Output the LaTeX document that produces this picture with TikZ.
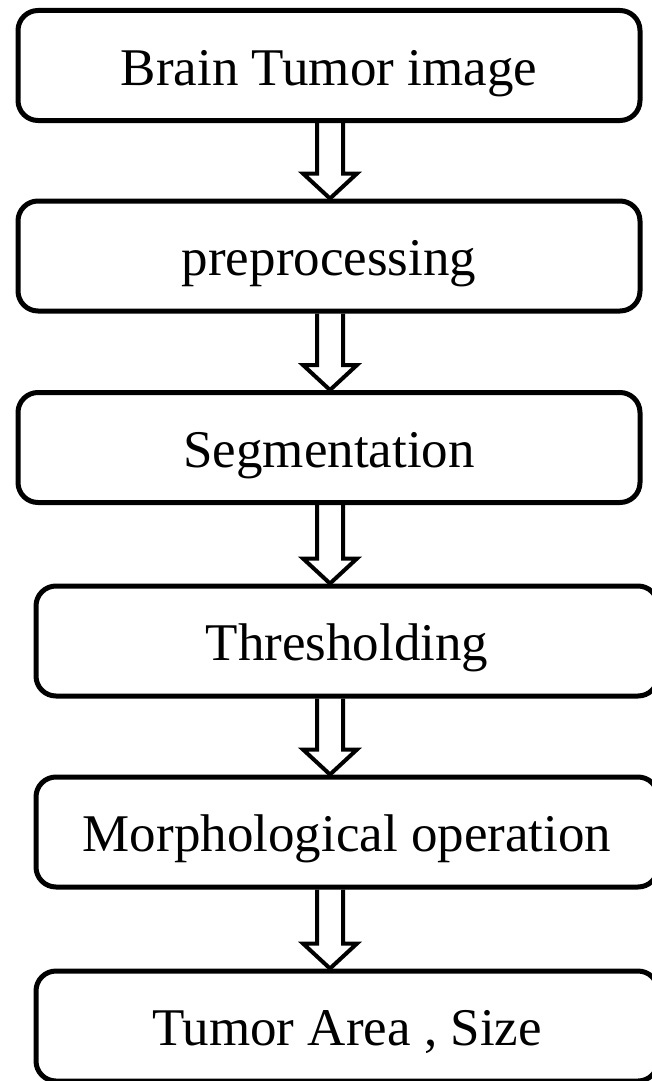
\documentclass[tikz,border=0pt]{standalone}
\usepackage{fontspec}
\setmainfont{Liberation Serif}
\usetikzlibrary{calc}

\tikzset{
  stage/.style={draw, line width=5pt, rounded corners=20pt,
    minimum width=622pt, minimum height=110pt, inner sep=0pt,
    text height=39pt, text depth=0pt,
    font=\fontsize{53}{60}\selectfont},
  hollow/.style={draw, line width=4pt, line join=miter}
}

\begin{document}
\begin{tikzpicture}[x=1pt, y=-1pt]
    \useasboundingbox (0,0) rectangle (651,1081);
    \coordinate (axis) at (330,0);

    \node[stage] (b1) at (329,65.5)  {Brain Tumor image};
    \node[stage] (b2) at (329,256)   {preprocessing};
    \node[stage] (b3) at (329,447.5) {Segmentation};
    \node[stage] (b4) at (347,641)   {Thresholding};
    \node[stage] (b5) at (347,832)   {Morphological operation};
    \node[stage] (b6) at (347,1026)  {Tumor Area , Size};

    % hollow block arrows between the stages
    \foreach \a/\b in {b1/b2, b2/b3, b3/b4, b4/b5, b5/b6} {
      \path (\a.south -| axis) coordinate (top)
            (\b.north -| axis) coordinate (tip);
      \draw[hollow] ($(top)+(-13,0)$) -- ($(tip)+(-13,-25)$)
        -- ($(tip)+(-27,-25)$) -- (tip) -- ($(tip)+(27,-25)$)
        -- ($(tip)+(13,-25)$) -- ($(top)+(13,0)$);
    }
\end{tikzpicture}
\end{document}
